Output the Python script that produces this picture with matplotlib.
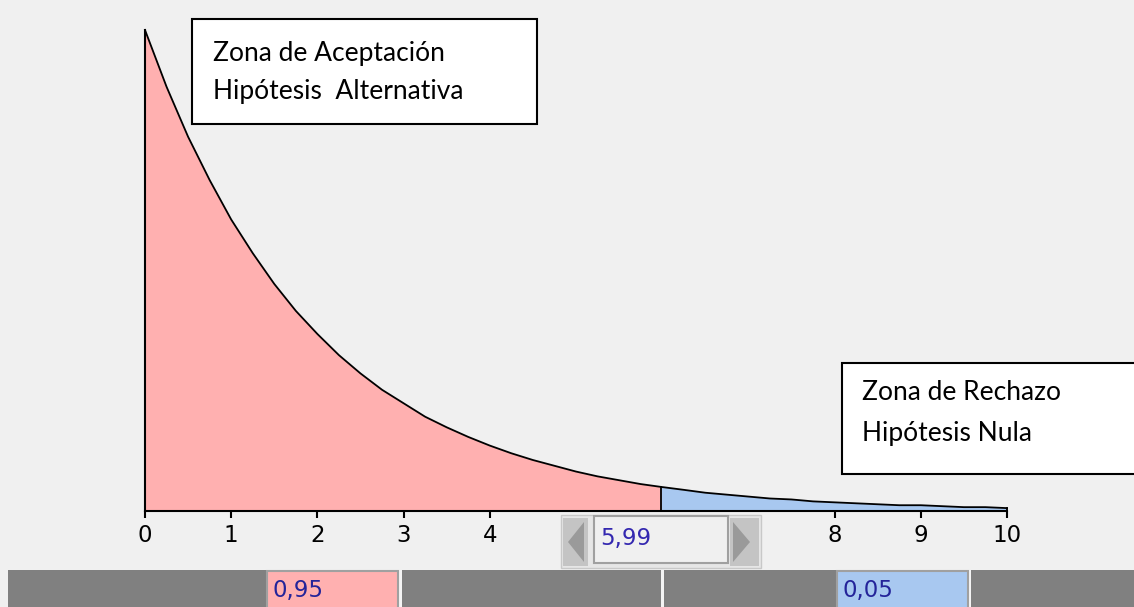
import numpy as np
import matplotlib
matplotlib.use("Agg")
import matplotlib.pyplot as plt
from matplotlib.patches import Rectangle, Polygon

# density (chi-square curve, no y labels shown)
x_vals = [0.0, 0.25, 0.5, 0.75, 1.0, 1.25, 1.5, 1.75, 2.0, 2.25, 2.5, 2.75,
          3.0, 3.25, 3.5, 3.75, 4.0, 4.25, 4.5, 4.75, 5.0, 5.25, 5.5, 5.75,
          5.99, 6.25, 6.5, 6.75, 7.0, 7.25, 7.5, 7.75, 8.0, 8.25, 8.5, 8.75,
          9.0, 9.25, 9.5, 9.75, 10.0]
y_vals = [0.500, 0.441, 0.389, 0.344, 0.303, 0.268, 0.236, 0.208, 0.184, 0.162,
          0.143, 0.126, 0.112, 0.098, 0.087, 0.077, 0.068, 0.060, 0.053, 0.047,
          0.041, 0.036, 0.032, 0.028, 0.025, 0.022, 0.019, 0.017, 0.015, 0.013,
          0.012, 0.010, 0.009, 0.008, 0.007, 0.006, 0.006, 0.005, 0.004, 0.004,
          0.003]
critical = 5.99
tick_pos = [0, 1, 2, 3, 4, 8, 9, 10]
tick_lbl = ["0", "1", "2", "3", "4", "8", "9", "10"]
p_accept = "0,95"
p_reject = "0,05"
box1_lines = ["Zona de Aceptación", "Hipótesis  Alternativa"]
box2_lines = ["Zona de Rechazo", "Hipótesis Nula"]

W, H = 1134, 607
BG = "#f0f0f0"
PINK = "#ffb0b0"
BLUE = "#a8c8f0"
NUMC = "#24249a"
BOXFONT = 19
NUMFONT = 16.5

fig = plt.figure(figsize=(W / 100, H / 100), dpi=100, facecolor=BG)

# overlay axes in pixel coordinates for widgets / boxes
pix = fig.add_axes([0, 0, 1, 1])
pix.set_xlim(0, W)
pix.set_ylim(H, 0)
pix.axis("off")
pix.set_facecolor(BG)

# plot axes: x 0..10 -> px 145..1007, y 0..0.5 -> px 511..30
x0, x1, yb, yt = 145, 1007, 511, 30
ax = fig.add_axes([x0 / W, (H - yb) / H, (x1 - x0) / W, (yb - yt) / H])
ax.set_xlim(0, 10)
ax.set_ylim(0, 0.5)
ax.patch.set_alpha(0)

xs = np.array(x_vals)
ys = np.array(y_vals)
left = xs <= critical
right = xs >= critical
ax.fill_between(xs[left], 0, ys[left], color=PINK, lw=0)
ax.fill_between(xs[right], 0, ys[right], color=BLUE, lw=0)
ax.plot(xs, ys, color="black", lw=1.3, clip_on=False)
ax.plot([0, 0], [0, y_vals[0]], color="black", lw=1.5, clip_on=False)
ic = x_vals.index(critical)
ax.plot([critical, critical], [0, y_vals[ic]], color="black", lw=1.3)
ax.plot([10, 10], [0, y_vals[-1]], color="black", lw=1.3, clip_on=False)

for s in ["top", "right", "left"]:
    ax.spines[s].set_visible(False)
ax.spines["bottom"].set_linewidth(1.5)
ax.set_yticks([])
ax.set_xticks(tick_pos)
ax.set_xticklabels(tick_lbl, fontsize=NUMFONT, family="DejaVu Sans")
ax.tick_params(axis="x", length=5, width=1.5, pad=4, direction="out")

# text boxes
pix.add_patch(Rectangle((192, 19), 345, 105, fc="white", ec="black", lw=1.5, zorder=5))
pix.text(213, 53, box1_lines[0], fontsize=BOXFONT, family="Lato", va="center", zorder=6)
pix.text(213, 91, box1_lines[1], fontsize=BOXFONT, family="Lato", va="center", zorder=6)
pix.add_patch(Rectangle((842, 363), 300, 111, fc="white", ec="black", lw=1.5, zorder=5))
pix.text(862, 393, box2_lines[0], fontsize=BOXFONT, family="Lato", va="center", zorder=6)
pix.text(862, 433, box2_lines[1], fontsize=BOXFONT, family="Lato", va="center", zorder=6)

# spinner widget with critical value
pix.add_patch(Rectangle((561, 515), 200, 53, fc="#e6e6e6", ec="#c8c8c8", lw=1, zorder=5))
pix.add_patch(Rectangle((563, 518), 25, 48, fc="#c4c4c4", ec="none", zorder=6))
pix.add_patch(Polygon([[584, 522], [584, 562], [568, 542]], fc="#9a9a9a", ec="none", zorder=7))
pix.add_patch(Rectangle((730, 518), 29, 48, fc="#c4c4c4", ec="none", zorder=6))
pix.add_patch(Polygon([[733, 522], [733, 562], [750, 542]], fc="#9a9a9a", ec="none", zorder=7))
pix.add_patch(Rectangle((594, 516), 134, 47, fc="#f0f0f0", ec="#a0a0a0", lw=1.5, zorder=6))
pix.text(600, 539, f"{critical:.2f}".replace(".", ","), fontsize=NUMFONT, color="#3428b0",
         family="DejaVu Sans", va="center", zorder=7)

# bottom bar with probabilities
pix.add_patch(Rectangle((8, 570), W - 8, H - 570, fc="#808080", ec="none", zorder=4))
for sx in [400, 662, 969]:
    pix.add_patch(Rectangle((sx - 1.5, 570), 3, H - 570, fc="#f4f4f4", ec="none", zorder=5))
pix.add_patch(Rectangle((267, 571), 131, 40, fc=PINK, ec="#a0a0a0", lw=1.5, zorder=5))
pix.text(272, 591, p_accept, fontsize=NUMFONT, color=NUMC, family="DejaVu Sans",
         va="center", zorder=6)
pix.add_patch(Rectangle((837, 571), 131, 40, fc=BLUE, ec="#a0a0a0", lw=1.5, zorder=5))
pix.text(842, 591, p_reject, fontsize=NUMFONT, color=NUMC, family="DejaVu Sans",
         va="center", zorder=6)

fig.savefig("out.png", dpi=100, facecolor=BG)
